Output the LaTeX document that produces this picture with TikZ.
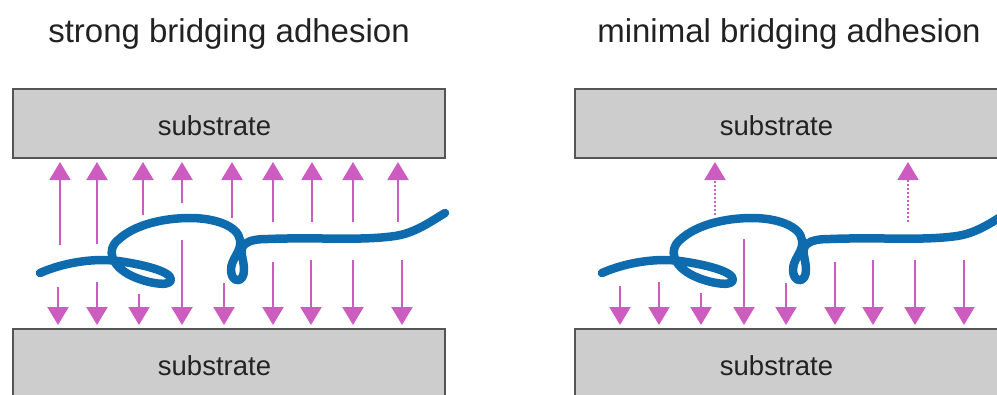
\documentclass[tikz,border=0pt]{standalone}
\usepackage{fontspec}
\setmainfont{Liberation Sans}
\usetikzlibrary{arrows.meta}
\definecolor{subfill}{HTML}{CDCDCD}
\definecolor{subedge}{HTML}{555555}
\definecolor{force}{HTML}{CC5CC0}
\definecolor{chain}{HTML}{0E6BAE}
\definecolor{ink}{HTML}{222222}
\tikzset{
  subbox/.style={draw=subedge, fill=subfill, line width=2pt, rectangle,
    minimum width=432pt, inner sep=0pt},
  sublabel/.style={anchor=base, text=ink, font=\fontsize{27.5}{30}\selectfont, inner sep=0pt},
  heading/.style={anchor=base, text=ink, font=\fontsize{33}{36}\selectfont, inner sep=0pt},
  pull/.style={draw=force, line width=2pt, -{Triangle[width=21pt,length=18pt]}},
  weakpull/.style={pull, dash pattern=on 2pt off 2pt},
  polymer/.style={draw=chain, line width=8.5pt, line cap=round, line join=round},
}
\begin{document}
\begin{tikzpicture}[x=1pt, y=-1pt]
\useasboundingbox (0,0) rectangle (997,394);
\clip (0,0) rectangle (997,394);

% headings
\node[heading] (headL) at (229,42) {strong bridging adhesion};
\node[heading] (headR) at (789,42) {minimal bridging adhesion};

% substrates
\node[subbox, minimum height=69pt] (topL) at (229,123.5) {};
\node[subbox, minimum height=72pt] (botL) at (229,364.5) {};
\node[subbox, minimum height=69pt] (topR) at (791,123.5) {};
\node[subbox, minimum height=72pt] (botR) at (791,364.5) {};
\node[sublabel] (topLt) at (214.5,135) {substrate};
\node[sublabel] (botLt) at (214.5,375) {substrate};
\node[sublabel] (topRt) at (776.5,135) {substrate};
\node[sublabel] (botRt) at (776.5,375) {substrate};

% adhesive forces, strong case
\foreach \x/\t in {60/245, 97/244, 143/215, 182/203, 232/218, 273/222, 312/222, 353/222, 398/222}
  \draw[pull] (\x,\t) -- (\x,162);
\foreach \x/\t in {58/287, 97/282, 139/294, 182/240, 224/283, 273/262, 311/260, 353/260, 402/260}
  \draw[pull] (\x,\t) -- (\x,325);

% adhesive forces, minimal case
\foreach \x/\t in {715/215, 908/222}
  \draw[weakpull] (\x,\t) -- (\x,162);
\foreach \x/\t in {620/286, 659/282, 701/293, 744/239, 786/283, 835/262, 873/260, 915/260, 964/260}
  \draw[pull] (\x,\t) -- (\x,325);

% polymer chain (same shape in both panels)
\foreach \dx in {0,562} {
  \begin{scope}[xshift=\dx pt]
  \draw[polymer] (40,273)
    .. controls (65,262) and (95,258) .. (118,261)
    .. controls (140,264) and (172,271) .. (171,280)
    .. controls (170,288) and (142,282) .. (128,274)
    .. controls (112,265) and (106,250) .. (118,240)
    .. controls (135,224) and (165,218) .. (190,218)
    .. controls (215,218) and (238,226) .. (240,240)
    .. controls (242,252) and (231,258) .. (231,270)
    .. controls (231,283) and (244,284) .. (244,270)
    .. controls (244,258) and (238,250) .. (245,244)
    .. controls (250,240) and (258,239) .. (268,239)
    .. controls (320,237) and (360,241) .. (395,236)
    .. controls (415,233) and (430,222) .. (445,213);
  \end{scope}
}
\end{tikzpicture}
\end{document}
